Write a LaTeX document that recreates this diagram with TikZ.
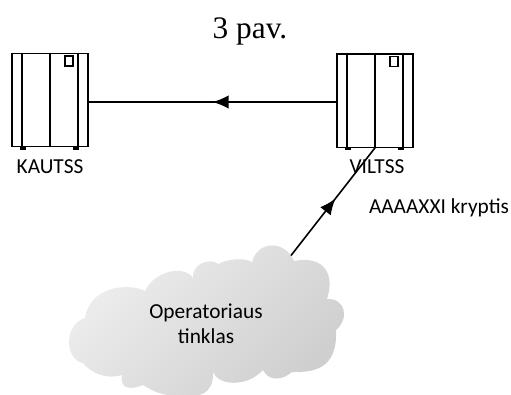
\documentclass[tikz,border=0pt]{standalone}
\usepackage{fontspec}
\setmainfont{Carlito}
\newfontfamily\titlefont{Liberation Serif}
\usetikzlibrary{arrows.meta,decorations.markings}
\tikzset{
	serverbox/.style={draw,line width=1pt,minimum width=57pt,minimum height=70pt,inner sep=0pt},
	serverlabel/.style={font=\fontsize{16}{18}\selectfont,inner sep=0pt},
	link/.style={draw,line width=1.2pt},
	midarrow/.style={postaction={decorate},decoration={markings,mark=at position #1 with {\arrow{Latex[length=12pt,width=10pt]}}}}
}
% inner lines, lamp and feet of a server
\newcommand{\serverparts}[1]{
	\begin{scope}[shift={(#1.center)}]
		\draw [line width=1.3pt] (-28,-47) -- (-28,47);
		\draw [line width=1pt] (0,-47) -- (0,47);
		\draw [line width=2pt] (28,-47) -- (28,47);
		\draw [line width=1pt] (15,-44) rectangle (23,-34);
		\fill (-30,47) rectangle (-24,49.5);
		\fill (23,47) rectangle (29,49.5);
	\end{scope}
}
\begin{document}
\begin{tikzpicture}[x=0.75pt,y=-0.75pt]
	\useasboundingbox (0,0) rectangle (511,394);
	\node (title) at (250,31) {\titlefont\fontsize{23.5}{26}\selectfont 3 pav.};
	\node [serverbox] (KAUTSS) at (50,100) {};
	\node [serverbox] (VILTSS) at (375,100.5) {};
	\serverparts{KAUTSS}
	\serverparts{VILTSS}
	\node [serverlabel] (kautssname) at (50,167) {KAUTSS};
	\node [serverlabel] (viltssname) at (377,167) {VILTSS};
	\node [serverlabel] (kryptis) at (439,208) {AAAAXXI kryptis};

	% cloud, points read from the reference
	\path [shade,top color=gray!13,bottom color=gray!38,shading angle=45]
		(252,262) .. controls (258,240) and (285,240) .. (294,261)
		.. controls (325,255) and (335,275) .. (327,299)
		.. controls (345,298) and (350,318) .. (336,330)
		.. controls (338,372) and (310,372) .. (292,372)
		.. controls (280,382) and (268,380) .. (263,370)
		.. controls (245,390) and (210,385) .. (213,366)
		.. controls (215,390) and (205,396) .. (190,396)
		.. controls (170,396) and (160,396) .. (143,385)
		.. controls (125,392) and (120,385) .. (122,375)
		.. controls (105,380) and (90,372) .. (83,363)
		.. controls (65,360) and (63,325) .. (85,318)
		.. controls (90,285) and (130,283) .. (145,291)
		.. controls (155,270) and (185,265) .. (193,278)
		.. controls (192,262) and (212,258) .. (218,264)
		.. controls (230,258) and (245,258) .. (252,262) -- cycle;
	\coordinate (cloudedge) at (291,255.5);
	\coordinate (kautssport) at (88,102);
	\coordinate (viltssport) at (337,102);
	\node (cloudname) [align=center,font=\fontsize{16}{18.75}\selectfont] at (206,324) {Operatoriaus\\tinklas};

	\path [link,midarrow=0.5] (viltssport) -- (kautssport);
	\path [link,midarrow=0.53] (cloudedge) -- (VILTSS.south);
\end{tikzpicture}
\end{document}
